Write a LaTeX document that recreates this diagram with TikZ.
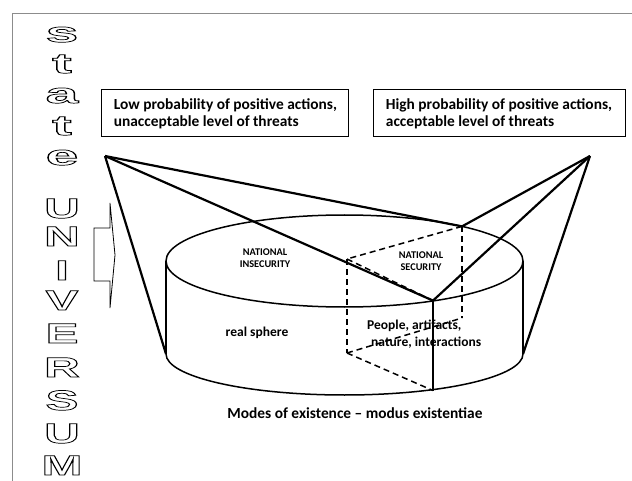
\documentclass[tikz,border=0pt]{standalone}
\usepackage{fontspec}
\setmainfont{Carlito}
\newfontfamily\outfont{Liberation Sans}
\newcommand\outl[1]{\special{pdf:literal direct 1 Tr 0.7 w}#1\special{pdf:literal direct 0 Tr}}
\tikzset{
  frame/.style={draw=black!45, line width=1pt},
  cyl/.style={line width=1.5pt},
  apex/.style={line width=2.2pt},
  hidden/.style={line width=1.5pt, dash pattern=on 6pt off 4pt},
  infobox/.style={draw, line width=1pt, align=left, inner xsep=0pt, inner ysep=0pt,
    minimum height=47pt, font=\bfseries\fontsize{15.4}{17}\selectfont},
  lbl/.style={font=\bfseries\fontsize{13.5}{17}\selectfont, inner sep=0pt},
  small/.style={font=\bfseries\fontsize{10.3}{12.5}\selectfont, align=center, inner sep=0pt},
  letter/.style={font=\outfont\bfseries\fontsize{28}{28}\selectfont, xscale=1.75, anchor=base, inner sep=0pt},
  lowletter/.style={letter, xscale=1.2}
}
\begin{document}
\begin{tikzpicture}[x=1pt,y=-1pt]
\useasboundingbox (0,0) rectangle (632,481);
% frame
\draw[frame] (12,481) -- (12,14) -- (632,14);

% coordinates
\coordinate (LA) at (105,156);
\coordinate (RA) at (590,156);
\coordinate (TL) at (166,261);
\coordinate (TR) at (523,261);
\coordinate (BL) at (166,354);
\coordinate (BR) at (523,354);
\coordinate (F) at (433,300.6);
\coordinate (K) at (462,226.4);
\coordinate (H) at (347,259);
\coordinate (HB) at (347,353);
\coordinate (KB) at (462,318);
\coordinate (FB) at (433,390.5);

% boxes
\node[infobox, minimum width=247pt] (low) at (225.4,113.5) {Low probability of positive actions,\\unacceptable level of threats};
\node[infobox, minimum width=252pt] (high) at (499,113.5) {High probability of positive actions,\\acceptable level of threats};

% cylinder
\draw[cyl] (344.5,261) ellipse [x radius=178.5, y radius=46];
\draw[cyl] (TL) -- (BL);
\draw[cyl] (TR) -- (BR);
\draw[cyl] (BL) arc[start angle=180, end angle=0, x radius=178.5, y radius=41];

% hidden box
\draw[hidden] (K) -- (KB);
\draw[hidden] (K) -- (H);
\draw[hidden] (H) -- (F);
\draw[hidden] (H) -- (HB);
\draw[hidden] (HB) -- (FB);
\draw[hidden] (HB) -- (KB);
\draw[cyl] (F) -- (FB);

% apex lines
\draw[apex] (LA) -- (BL);
\draw[apex] (LA) -- (F);
\draw[apex] (LA) -- (K);
\draw[apex] (RA) -- (K);
\draw[apex] (RA) -- (F);
\draw[apex] (RA) -- (BR);

% texts
\node[small] (ni) at (265,258) {NATIONAL\\INSECURITY};
\node[small] (ns) at (421,261) {NATIONAL\\SECURITY};
\node[lbl] (rs) at (257,333) {real sphere};
\node[lbl, align=left, anchor=west] (pp) at (367,334) {People, artifacts,\\\hspace*{4pt}nature, interactions};
\node[lbl, font=\bfseries\fontsize{15.4}{17}\selectfont] (mo) at (355,413) {Modes of existence – modus existentiae};

% block arrow
\draw[line width=0.8pt] (94,228) -- (110,228) -- (110,203) -- (115,255) -- (110,308) -- (110,281) -- (94,281) -- cycle;

% outlined letters
\node[lowletter] (l1) at (62,42) {\outl{s}};
\node[lowletter] (l2) at (62,73) {\outl{t}};
\node[lowletter] (l3) at (62,103) {\outl{a}};
\node[lowletter] (l4) at (62,135) {\outl{t}};
\node[lowletter] (l5) at (62,165) {\outl{e}};
\node[letter] (l6) at (62,218) {\outl{U}};
\node[letter] (l7) at (62,246) {\outl{N}};
\node[letter] (l8) at (62,280) {\outl{I}};
\node[letter] (l9) at (62,310) {\outl{V}};
\node[letter] (l10) at (62,343) {\outl{E}};
\node[letter] (l11) at (62,377) {\outl{R}};
\node[letter] (l12) at (62,410) {\outl{S}};
\node[letter] (l13) at (62,443) {\outl{U}};
\node[letter] (l14) at (62,475) {\outl{M}};
\end{tikzpicture}
\end{document}
